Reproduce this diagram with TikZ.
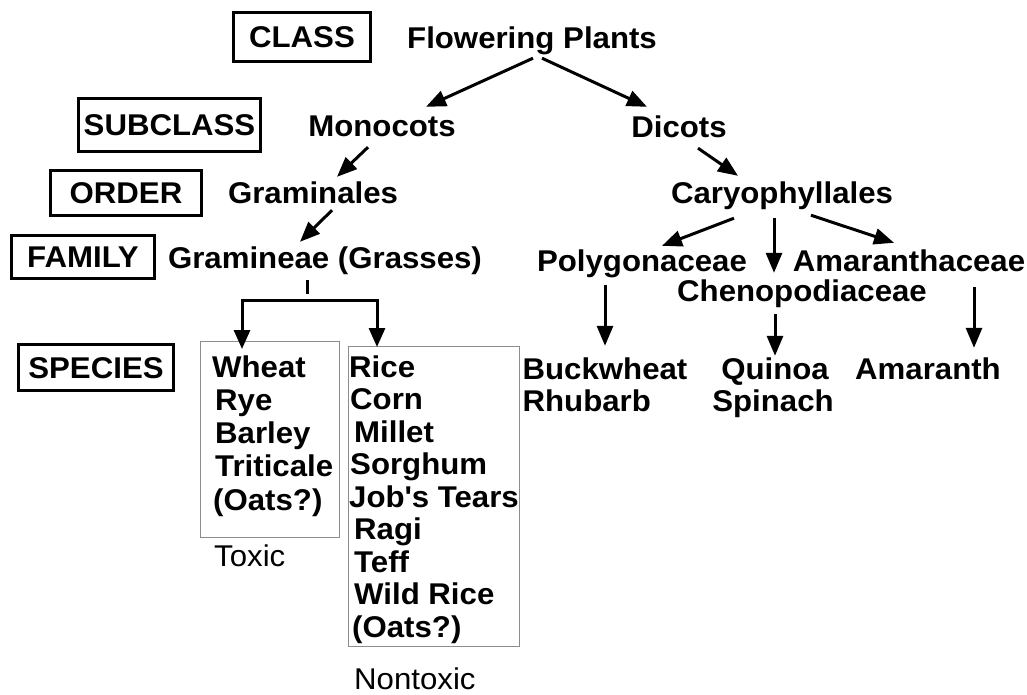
\documentclass[tikz,border=0pt]{standalone}
\usepackage{fontspec}
\setmainfont{Liberation Sans}[FakeStretch=1.04]
\usetikzlibrary{arrows.meta}

\begin{document}
\begin{tikzpicture}[x=1pt, y=-1pt,
		rank/.style={draw, line width=3pt, inner sep=0pt, text height=21.5pt, text depth=0pt, font=\fontsize{30}{32.5}\selectfont\bfseries},
		taxon/.style={anchor=base, inner sep=1pt, text height=21pt, text depth=6pt, font=\fontsize{30}{32.5}\selectfont\bfseries},
		cropbox/.style={draw=black!45, line width=1.3pt, anchor=north west, inner sep=0pt},
		note/.style={anchor=base west, inner sep=0pt, font=\fontsize{30}{32.5}\selectfont},
		link/.style={line width=3pt, -{Triangle[length=20pt, width=16pt]}},
		forklink/.style={line width=3pt, {Triangle[length=19pt, width=16pt]}-{Triangle[length=19pt, width=16pt]}}]
		\useasboundingbox (0, 0) rectangle (1027, 695);
		% ranks
		\node[rank, minimum width=137pt, minimum height=49pt] (class) at (302, 37) {CLASS};
		\node[rank, minimum width=182pt, minimum height=53pt] (subclass) at (169.5, 125) {SUBCLASS};
		\node[rank, minimum width=151pt, minimum height=44pt] (order) at (126, 193) {ORDER};
		\node[rank, minimum width=143pt, minimum height=43pt] (family) at (83, 257) {FAMILY};
		\node[rank, minimum width=155pt, minimum height=46pt] (species) at (96, 367.5) {SPECIES};
		% taxa
		\node[taxon] (fp) at (532, 49) {Flowering Plants};
		\node[taxon] (mono) at (382, 137) {Monocots};
		\node[taxon] (dicot) at (679, 138) {Dicots};
		\node[taxon] (gramin) at (313, 203) {Graminales};
		\node[taxon] (caryo) at (782, 204) {Caryophyllales};
		\node[taxon] (gram) at (325, 268) {Gramineae (Grasses)};
		\node[taxon] (poly) at (642, 271) {Polygonaceae};
		\node[taxon] (amar) at (909, 271) {Amaranthaceae};
		\node[taxon] (cheno) at (802, 301) {Chenopodiaceae};
		\node[taxon] (buck) at (605, 379) {Buckwheat};
		\node[taxon, anchor=base west] (rhub) at ([yshift=-32.5pt]buck.base west) {Rhubarb};
		\node[taxon] (quin) at (775, 379) {Quinoa};
		\node[taxon] (spin) at (773, 411.5) {Spinach};
		\node[taxon] (amth) at (928, 379) {Amaranth};
		% grain boxes
		\node[cropbox, minimum width=139pt, minimum height=196pt] (toxbox) at (200, 341) {};
		\node[cropbox, minimum width=171pt, minimum height=300pt] (ntxbox) at (348, 346) {};
		\foreach \crop/\dx [count=\i] in {Wheat/0, Rye/3, Barley/3, Triticale/3, {(Oats?)}/1}
			\node[taxon, anchor=base west] (tox\i) at (211+\dx, 377+33.25*\i-33.25) {\crop};
		\foreach \crop/\dx [count=\i] in {Rice/0, Corn/1, Millet/5, Sorghum/1, Job\textquotesingle s Tears/0, Ragi/5, Teff/5, Wild Rice/5, {(Oats?)}/3}
			\node[taxon, anchor=base west] (ntx\i) at (348+\dx, 377+32.5*\i-32.5) {\crop};
		\node[note] (toxic) at (214, 566) {Toxic};
		\node[note] (nontoxic) at (354, 689) {Nontoxic};
		% links
		\draw[link] ([xshift=1pt, yshift=-2pt]fp.south) -- ([xshift=44pt, yshift=8pt]mono.north);
		\draw[link] ([xshift=10pt, yshift=-2pt]fp.south) -- ([xshift=-32pt, yshift=9pt]dicot.north);
		\draw[link] ([xshift=-14pt, yshift=-3pt]mono.south) -- ([xshift=24pt, yshift=4pt]gramin.north);
		\draw[link] ([xshift=19pt]gramin.south) -- ([xshift=-25pt, yshift=4pt]gram.north);
		\draw[link] ([xshift=19pt, yshift=-3pt]dicot.south) -- ([xshift=-44pt, yshift=6pt]caryo.north);
		\draw[link] ([xshift=-48pt, yshift=-7pt]caryo.south) -- ([xshift=20pt, yshift=3pt]poly.north);
		\draw[link] ([xshift=-8pt, yshift=-7pt]caryo.south) -- ([xshift=-28pt, yshift=6pt]cheno.north);
		\draw[link] ([xshift=29pt, yshift=-4pt]caryo.south) -- ([xshift=-15pt, yshift=6pt]amar.north);
		\draw[link] ([xshift=-37pt, yshift=-7pt]poly.south) -- ([yshift=11pt]buck.north);
		\draw[link] ([xshift=-27pt, yshift=-6pt]cheno.south) -- ([yshift=1pt]quin.north);
		\draw[link] ([xshift=65pt, yshift=-9pt]amar.south) -- ([xshift=46pt, yshift=9pt]amth.north);
		% grasses fork
		\draw[line width=3pt] ([xshift=-18pt, yshift=-5pt]gram.south) -- ++(0, 14);
		\coordinate (fork) at ([xshift=-18pt, yshift=-25pt]gram.south);
		\draw[forklink] ([xshift=42pt, yshift=-8pt]toxbox.north west) |- (fork) -| ([xshift=29pt, yshift=-1pt]ntxbox.north west);
	\end{tikzpicture}
\end{document}
